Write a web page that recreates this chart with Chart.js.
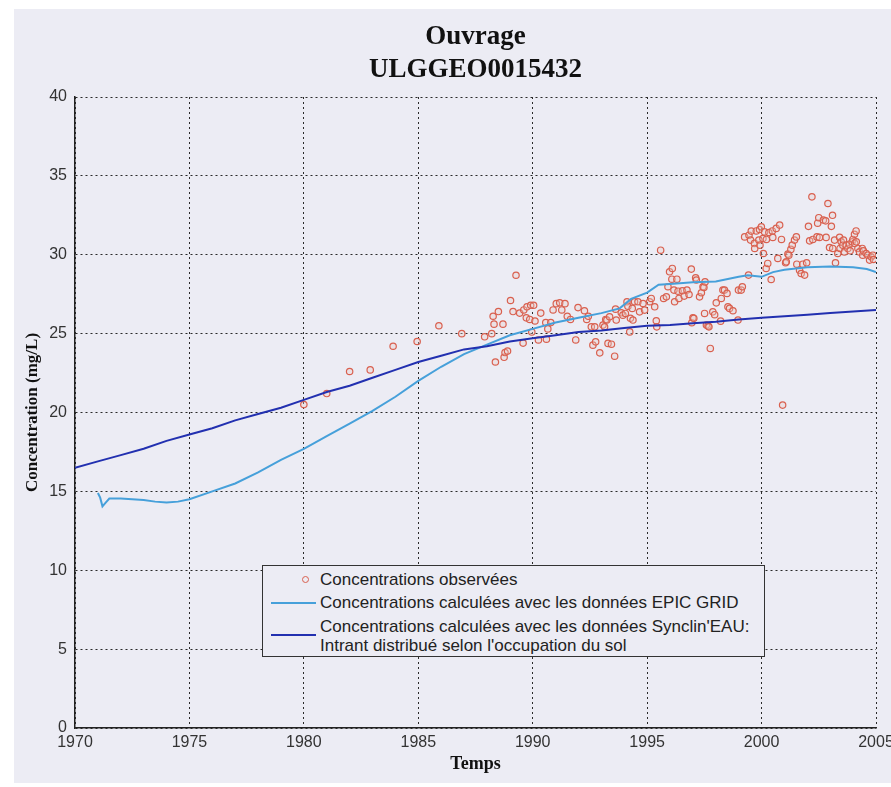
<!DOCTYPE html>
<html>
<head>
<meta charset="utf-8">
<script src="https://cdn.jsdelivr.net/npm/chart.js@4/dist/chart.umd.min.js"></script>
<style>
html,body{margin:0;padding:0;background:#ffffff;}
#wrap{position:relative;width:891px;height:787px;overflow:hidden;}
#c{position:absolute;left:0;top:0;}
#legend{position:absolute;left:262px;top:565px;width:503px;height:92px;box-sizing:border-box;border:1px solid #333;background:#ececf4;font-family:"Liberation Sans",Arial,sans-serif;font-size:17px;color:#222;}
#legend .t{position:absolute;left:57px;white-space:nowrap;line-height:20px;}
#legend .ln{position:absolute;left:8px;width:45px;height:2px;}
#legend .mk{position:absolute;left:39px;top:10px;width:5px;height:5px;border:1.3px solid #d9604f;border-radius:50%;}
</style>
</head>
<body>
<div id="wrap">
<canvas id="c" width="891" height="787"></canvas>
<div id="legend">
  <div class="mk"></div>
  <div class="t" style="top:4px">Concentrations observées</div>
  <div class="ln" style="top:36px;background:#46a0da"></div>
  <div class="t" style="top:27px">Concentrations calculées avec les données EPIC GRID</div>
  <div class="ln" style="top:68px;background:#2230b0"></div>
  <div class="t" style="top:51px">Concentrations calculées avec les données Synclin'EAU:</div>
  <div class="t" style="top:70px">Intrant distribué selon l'occupation du sol</div>
</div>
</div>
<script>
// ---- Data ----
const titleLines = ["Ouvrage", "ULGGEO0015432"];
const xLabel = "Temps";
const yLabel = "Concentration (mg/L)";

const obsYears = [
1980.0,1981.0,1982.0,1982.9,1983.9,1984.95,1985.9,1986.9,1987.9,
1988.21,1988.27,1988.31,1988.37,1988.5,1988.7,1988.75,1988.79,1988.9,
1989.03,1989.14,1989.27,1989.43,1989.58,1989.61,1989.72,1989.75,1989.87,1989.91,1989.96,
1990.04,1990.1,1990.25,1990.35,1990.57,1990.6,1990.66,1990.79,1990.89,
1991.03,1991.18,1991.27,1991.41,1991.51,1991.65,1991.88,1991.98,
1992.26,1992.36,1992.43,1992.56,1992.63,1992.71,1992.75,1992.93,
1993.07,1993.14,1993.19,1993.24,1993.29,1993.36,1993.44,1993.58,1993.62,1993.65,1993.87,1993.94,
1994.05,1994.12,1994.16,1994.24,1994.27,1994.35,1994.38,1994.45,1994.6,1994.67,1994.82,1994.89,
1995.11,1995.18,1995.33,1995.4,1995.42,1995.59,1995.72,1995.84,1995.91,1995.98,
1996.08,1996.1,1996.17,1996.2,1996.3,1996.35,1996.39,1996.54,1996.62,1996.74,1996.83,1996.93,1996.95,
1997.0,1997.04,1997.12,1997.15,1997.29,1997.37,1997.44,1997.48,1997.51,1997.53,1997.59,1997.66,1997.7,1997.76,1997.87,1997.95,
1998.02,1998.21,1998.24,1998.31,1998.38,1998.49,1998.53,1998.6,1998.75,1998.97,1998.99,
1999.11,1999.16,1999.26,1999.43,1999.45,1999.52,1999.55,1999.69,1999.7,1999.77,1999.88,1999.91,1999.93,1999.99,
2000.06,2000.08,2000.13,2000.2,2000.21,2000.27,2000.32,2000.42,2000.47,2000.49,2000.64,2000.71,2000.79,2000.87,2000.92,
2001.05,2001.08,2001.15,2001.19,2001.28,2001.34,2001.44,2001.52,2001.54,2001.66,2001.73,2001.8,2001.88,2001.97,
2002.05,2002.1,2002.2,2002.24,2002.42,2002.45,2002.5,2002.53,2002.7,2002.8,2002.82,2002.9,2002.97,
2003.05,2003.1,2003.11,2003.19,2003.23,2003.33,2003.41,2003.43,2003.48,2003.55,2003.58,2003.62,2003.7,2003.77,2003.84,2003.87,2003.96,2003.99,
2004.06,2004.07,2004.13,2004.14,2004.21,2004.28,2004.4,2004.42,2004.45,2004.57,2004.64,2004.72,2004.79,2004.86,2004.89
];
const obsValues = [
20.5,21.2,22.6,22.7,24.2,24.5,25.5,25.0,24.8,
25.0,26.1,25.6,23.2,26.4,25.6,23.5,23.8,23.9,
27.1,26.4,28.7,26.3,24.4,26.5,26.0,26.7,25.9,26.8,25.1,
26.8,25.8,24.6,26.3,25.7,24.65,25.3,25.7,26.5,
26.9,26.95,26.5,26.9,26.1,25.9,24.6,26.65,
26.45,25.9,26.1,25.43,24.27,25.43,24.48,23.78,
25.54,25.43,25.9,25.86,24.38,26.07,24.33,23.57,26.55,25.86,26.32,26.17,
26.28,27.02,26.74,25.11,25.97,26.6,25.86,27.02,27.02,26.38,26.91,26.49,
27.02,27.23,26.7,25.81,25.43,30.29,27.23,27.33,27.97,28.92,
28.45,29.13,27.76,27.02,28.45,27.69,27.23,27.71,27.38,27.76,27.48,29.09,25.69,
26.0,25.97,28.54,28.4,27.33,27.59,27.97,27.93,26.28,28.28,25.54,25.49,25.43,24.06,26.38,26.2,
26.95,25.79,27.23,27.76,27.76,27.55,26.7,26.6,26.45,25.86,27.76,
27.76,27.97,31.13,28.71,31.24,30.93,31.5,30.72,30.4,31.51,30.93,31.6,30.61,31.77,
31.03,30.08,31.45,29.13,30.97,29.45,31.41,28.43,31.51,31.1,31.67,29.77,31.88,30.97,20.47,
29.49,29.55,30.04,29.97,30.34,30.61,30.93,31.13,29.4,29.02,28.81,29.4,28.71,29.49,
31.8,30.88,33.67,30.97,31.13,32.0,32.35,31.1,32.2,32.15,31.1,33.25,30.46,
31.8,32.5,30.4,30.93,29.49,30.08,31.1,30.4,30.82,30.61,30.93,30.18,30.61,30.4,30.67,30.25,30.82,30.97,
31.3,30.72,31.51,30.82,30.4,30.18,30.4,29.97,30.25,30.08,29.97,29.66,29.87,29.97,29.7
];

const epicYears = [1971.0,1971.1,1971.2,1971.35,1971.5,1972,1973,1973.5,1974,1974.5,1975,1976,1977,1978,1979,1980,1981,1982,1983,1984,1985,1986,1987,1988,1989,1990,1991,1992,1993,1993.8,1994.3,1995,1995.5,1996,1997,1998,1999,1999.4,2000,2000.5,2001,2002,2003,2004,2004.6,2005];
const epicValues = [14.9,14.6,14.05,14.3,14.55,14.55,14.45,14.35,14.3,14.35,14.5,15.0,15.5,16.2,17.0,17.7,18.5,19.3,20.1,21.0,22.0,22.9,23.7,24.3,24.9,25.3,25.7,26.0,26.3,26.6,27.2,27.6,28.1,28.15,28.25,28.3,28.6,28.7,28.6,28.9,29.05,29.2,29.25,29.2,29.1,28.9];

const synYears = [1970,1971,1972,1973,1974,1975,1976,1977,1978,1979,1980,1981,1982,1983,1984,1985,1986,1987,1988,1989,1990,1991,1992,1993,1994,1995,1996,1997,1998,1999,2000,2001,2002,2003,2004,2005];
const synValues = [16.5,16.9,17.3,17.7,18.2,18.6,19.0,19.5,19.9,20.3,20.8,21.3,21.7,22.2,22.7,23.2,23.6,24.0,24.2,24.5,24.7,24.9,25.1,25.2,25.35,25.5,25.55,25.65,25.75,25.9,26.0,26.1,26.2,26.3,26.4,26.5];

const xMin = 1970, xMax = 2005, xStep = 5;
const yMin = 0, yMax = 40, yStep = 5;

const toXY = (xs, ys) => xs.map((x, i) => ({x: x, y: ys[i]}));

const bgPlugin = {
  id: 'bg',
  beforeDraw(chart) {
    const c = chart.ctx;
    c.save();
    c.fillStyle = '#ffffff';
    c.fillRect(0, 0, chart.width, chart.height);
    c.fillStyle = '#ececf4';
    c.fillRect(14, 9, chart.width - 14, 774);
    c.restore();
  }
};

Chart.defaults.font.family = '"Liberation Sans", Arial, sans-serif';
Chart.defaults.color = '#333';

const gridStyle = {
  color: '#2a2a2a',
  lineWidth: 1,
  drawTicks: false
};
const borderStyle = {display: true, color: '#222', width: 1.5, dash: [2, 3]};

new Chart(document.getElementById('c'), {
  type: 'scatter',
  data: {
    datasets: [
      {
        label: 'Concentrations observées',
        data: toXY(obsYears, obsValues),
        showLine: false,
        pointStyle: 'circle',
        pointRadius: 3.2,
        pointBorderWidth: 1.2,
        pointBorderColor: '#d9604f',
        pointBackgroundColor: 'rgba(236,205,200,0.35)',
        order: 3
      },
      {
        label: 'Concentrations calculées avec les données EPIC GRID',
        data: toXY(epicYears, epicValues),
        showLine: true,
        borderColor: '#46a0da',
        borderWidth: 2,
        pointRadius: 0,
        tension: 0,
        order: 2
      },
      {
        label: "Concentrations calculées avec les données Synclin'EAU",
        data: toXY(synYears, synValues),
        showLine: true,
        borderColor: '#2230b0',
        borderWidth: 2,
        pointRadius: 0,
        tension: 0,
        order: 1
      }
    ]
  },
  options: {
    responsive: false,
    animation: false,
    devicePixelRatio: 1,
    layout: {padding: {left: 0, right: 15, top: 0, bottom: 0}},
    plugins: {
      legend: {display: false},
      tooltip: {enabled: false},
      title: {
        display: true,
        text: titleLines,
        fullSize: false,
        color: '#111',
        font: {family: '"Liberation Serif", "Times New Roman", serif', size: 27, weight: 'bold', lineHeight: 33/27},
        padding: {top: 20.5, bottom: 10.5}
      }
    },
    scales: {
      x: {
        type: 'linear',
        min: xMin, max: xMax,
        grid: gridStyle,
        border: borderStyle,
        ticks: {
          stepSize: xStep,
          padding: 5,
          color: '#333',
          font: {size: 16},
          callback: v => String(v)
        },
        title: {
          display: true,
          text: xLabel,
          color: '#111',
          font: {family: '"Liberation Serif", "Times New Roman", serif', size: 18, weight: 'bold'},
          padding: {top: 0, bottom: 12}
        },
        afterFit(s) { s.height = 59; s.paddingLeft = 0; s.paddingRight = 0; }
      },
      y: {
        type: 'linear',
        min: yMin, max: yMax,
        grid: gridStyle,
        border: borderStyle,
        ticks: {
          stepSize: yStep,
          padding: 8,
          color: '#333',
          font: {size: 16}
        },
        title: {
          display: true,
          text: yLabel,
          color: '#111',
          font: {family: '"Liberation Serif", "Times New Roman", serif', size: 17, weight: 'bold'},
          padding: {top: 22, bottom: 0}
        },
        afterFit(s) { s.width = 75; s.paddingTop = 0; s.paddingBottom = 0; }
      }
    }
  },
  plugins: [bgPlugin]
});
</script>
</body>
</html>
